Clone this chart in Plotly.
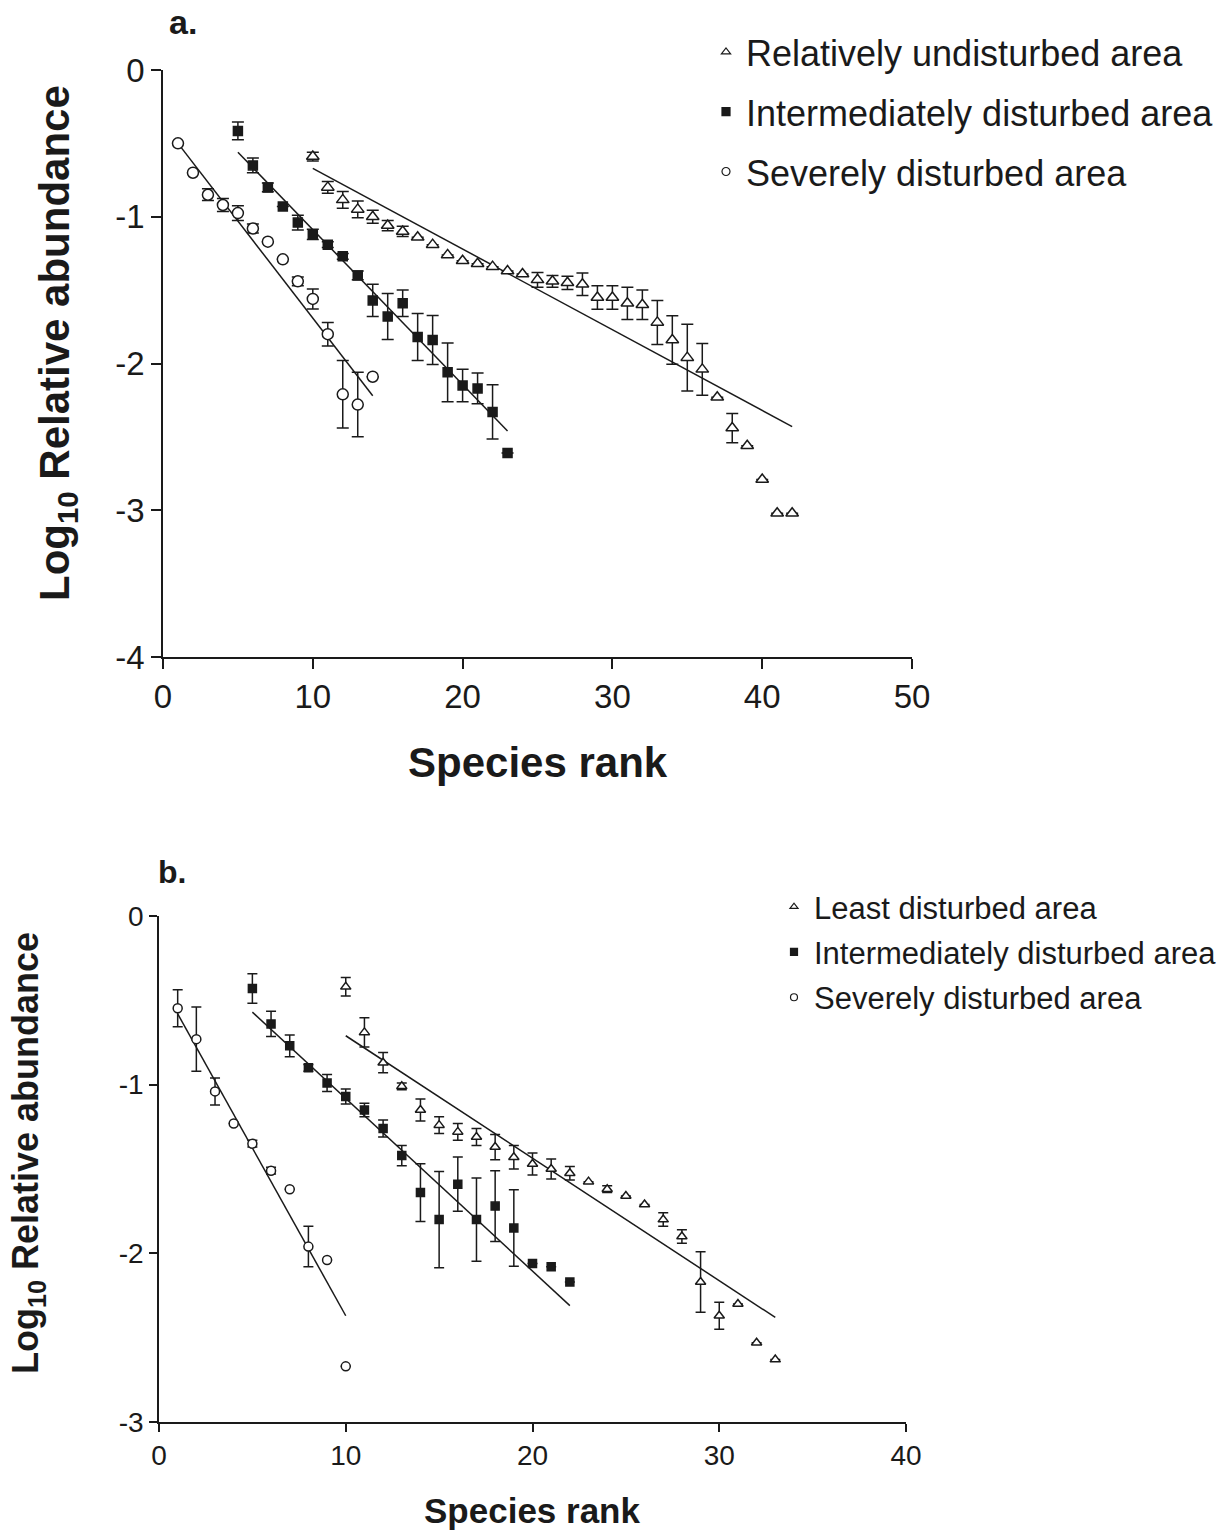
import plotly.graph_objects as go

W, H = 1224, 1531

# ---------------- Panel a data ----------------
tri_a_rank = list(range(10, 43))
tri_a_val = [-0.59, -0.80, -0.885, -0.95, -1.00, -1.06, -1.10, -1.14, -1.19, -1.26,
             -1.30, -1.32, -1.34, -1.37, -1.39, -1.43, -1.44, -1.45, -1.46, -1.55,
             -1.55, -1.59, -1.60, -1.72, -1.84, -1.96, -2.04, -2.23, -2.44, -2.56,
             -2.79, -3.02, -3.02]
tri_a_err = [0.03, 0.04, 0.057, 0.057, 0.045, 0.035, 0.035, 0, 0, 0,
             0, 0, 0, 0, 0, 0.05, 0.04, 0.045, 0.077, 0.08,
             0.08, 0.11, 0.10, 0.15, 0.165, 0.227, 0.176, 0, 0.10, 0,
             0, 0, 0]
int_a_rank = list(range(5, 24))
int_a_val = [-0.415, -0.65, -0.80, -0.93, -1.04, -1.12, -1.19, -1.27, -1.40, -1.57,
             -1.68, -1.59, -1.82, -1.84, -2.06, -2.15, -2.17, -2.33, -2.61]
int_a_err = [0.06, 0.05, 0.03, 0, 0.05, 0.035, 0.02, 0.02, 0.03, 0.11,
             0.157, 0.09, 0.16, 0.167, 0.20, 0.11, 0.105, 0.185, 0]
sev_a_rank = list(range(1, 15))
sev_a_val = [-0.50, -0.70, -0.85, -0.92, -0.975, -1.08, -1.17, -1.29, -1.44, -1.56,
             -1.80, -2.21, -2.28, -2.09]
sev_a_err = [0, 0, 0.04, 0.045, 0.05, 0.03, 0, 0, 0.03, 0.068,
             0.08, 0.23, 0.22, 0]

fit_a_tri_x, fit_a_tri_y = [10, 42], [-0.67, -2.43]
fit_a_int_x, fit_a_int_y = [5, 23], [-0.56, -2.46]
fit_a_sev_x, fit_a_sev_y = [1, 14], [-0.50, -2.22]

# ---------------- Panel b data ----------------
tri_b_rank = list(range(10, 34))
tri_b_val = [-0.42, -0.69, -0.87, -1.01, -1.15, -1.24, -1.28, -1.31, -1.37, -1.43,
             -1.47, -1.50, -1.525, -1.575, -1.62, -1.66, -1.71, -1.80, -1.90, -2.17,
             -2.37, -2.30, -2.53, -2.63]
tri_b_err = [0.055, 0.086, 0.06, 0.02, 0.065, 0.05, 0.05, 0.05, 0.075, 0.07,
             0.065, 0.06, 0.04, 0, 0.02, 0, 0, 0.04, 0.04, 0.18,
             0.08, 0, 0, 0]
int_b_rank = list(range(5, 23))
int_b_val = [-0.43, -0.64, -0.77, -0.90, -0.99, -1.07, -1.15, -1.26, -1.42, -1.64,
             -1.80, -1.59, -1.80, -1.72, -1.85, -2.06, -2.08, -2.17]
int_b_err = [0.087, 0.075, 0.065, 0.02, 0.05, 0.045, 0.04, 0.05, 0.06, 0.171,
             0.285, 0.161, 0.247, 0.21, 0.227, 0, 0, 0]
sev_b_rank = list(range(1, 11))
sev_b_val = [-0.547, -0.73, -1.04, -1.23, -1.35, -1.51, -1.62, -1.96, -2.04, -2.67]
sev_b_err = [0.11, 0.19, 0.08, 0, 0.02, 0.02, 0, 0.12, 0, 0]

fit_b_tri_x, fit_b_tri_y = [10, 33], [-0.71, -2.38]
fit_b_int_x, fit_b_int_y = [5, 22], [-0.57, -2.31]
fit_b_sev_x, fit_b_sev_y = [1, 10], [-0.58, -2.37]

legend_a_names = ["Relatively undisturbed area", "Intermediately disturbed area", "Severely disturbed area"]
legend_b_names = ["Least disturbed area", "Intermediately disturbed area", "Severely disturbed area"]

xticks_a = [0, 10, 20, 30, 40, 50]
yticks_a = [0, -1, -2, -3, -4]
xticks_b = [0, 10, 20, 30, 40]
yticks_b = [0, -1, -2, -3]
yticklabels_a = ["0", "-1", "-2", "-3", "-4"]
yticklabels_b = ["0", "-1", "-2", "-3"]

FONT = "Arial, Liberation Sans, sans-serif"
INK = "#1a1a1a"

fig = go.Figure()


def add_fit(x, y, xa, ya):
    fig.add_trace(go.Scatter(x=x, y=y, mode="lines", line=dict(color=INK, width=1.5),
                             xaxis=xa, yaxis=ya, showlegend=False, hoverinfo="skip"))


def add_pts(x, y, err, symbol, size, fill, xa, ya, cap):
    fig.add_trace(go.Scatter(
        x=x, y=y, mode="markers", xaxis=xa, yaxis=ya, showlegend=False, cliponaxis=False,
        marker=dict(symbol=symbol, size=size, color=fill, line=dict(color=INK, width=1.5)),
        error_y=dict(type="data", array=err, symmetric=True, color=INK, thickness=1.5, width=cap)))


# panel a
add_fit(fit_a_tri_x, fit_a_tri_y, "x", "y")
add_fit(fit_a_int_x, fit_a_int_y, "x", "y")
add_fit(fit_a_sev_x, fit_a_sev_y, "x", "y")
add_pts(tri_a_rank, tri_a_val, tri_a_err, "triangle-up", 11, "white", "x", "y", 6)
add_pts(int_a_rank, int_a_val, int_a_err, "square", 9, INK, "x", "y", 6)
add_pts(sev_a_rank, sev_a_val, sev_a_err, "circle", 11, "white", "x", "y", 6)

# panel b
add_fit(fit_b_tri_x, fit_b_tri_y, "x2", "y2")
add_fit(fit_b_int_x, fit_b_int_y, "x2", "y2")
add_fit(fit_b_sev_x, fit_b_sev_y, "x2", "y2")
add_pts(tri_b_rank, tri_b_val, tri_b_err, "triangle-up", 9, "white", "x2", "y2", 5)
add_pts(int_b_rank, int_b_val, int_b_err, "square", 8, INK, "x2", "y2", 5)
add_pts(sev_b_rank, sev_b_val, sev_b_err, "circle", 9, "white", "x2", "y2", 5)

# legend entries
sym = [("triangle-up", "white"), ("square", INK), ("circle", "white")]
for i, (name, (s, c)) in enumerate(zip(legend_a_names, sym)):
    fig.add_trace(go.Scatter(x=[None], y=[None], mode="markers", name=name, legend="legend",
                             legendgroup="a%d" % i, xaxis="x", yaxis="y",
                             marker=dict(symbol=s, size=8, color=c, line=dict(color=INK, width=1.2))))
for i, (name, (s, c)) in enumerate(zip(legend_b_names, sym)):
    fig.add_trace(go.Scatter(x=[None], y=[None], mode="markers", name=name, legend="legend2",
                             legendgroup="b%d" % i, xaxis="x2", yaxis="y2",
                             marker=dict(symbol=s, size=7, color=c, line=dict(color=INK, width=1.2))))

axis_common = dict(showline=True, linecolor=INK, linewidth=1.5, ticks="outside", tickwidth=1.5,
                   tickcolor=INK, showgrid=False, zeroline=False, fixedrange=True, automargin=False)

fig.update_layout(
    width=W, height=H, autosize=False,
    margin=dict(l=0, r=0, t=0, b=0, autoexpand=False),
    paper_bgcolor="white", plot_bgcolor="white",
    font=dict(family=FONT, color=INK),
    xaxis=dict(domain=[163 / W, 912 / W], range=[0, 50], tickvals=xticks_a,
               anchor="y", ticklen=10, tickfont=dict(family=FONT, color=INK, size=33), **axis_common),
    yaxis=dict(domain=[(H - 657) / H, (H - 70) / H], range=[-4, 0], tickvals=yticks_a,
               ticktext=yticklabels_a, anchor="x", ticklen=10,
               tickfont=dict(family=FONT, color=INK, size=33), **axis_common),
    xaxis2=dict(domain=[159 / W, 906 / W], range=[0, 40], tickvals=xticks_b,
                anchor="y2", ticklen=8, tickfont=dict(family=FONT, color=INK, size=28), **axis_common),
    yaxis2=dict(domain=[(H - 1422) / H, (H - 916) / H], range=[-3, 0], tickvals=yticks_b,
                ticktext=yticklabels_b, anchor="x2", ticklen=8,
                tickfont=dict(family=FONT, color=INK, size=28), **axis_common),
    legend=dict(x=706 / W, y=1 - 22 / H, xanchor="left", yanchor="top", bgcolor="rgba(0,0,0,0)",
                font=dict(family=FONT, size=36, color=INK), tracegroupgap=10, itemsizing="trace"),
    legend2=dict(x=774 / W, y=1 - 880 / H, xanchor="left", yanchor="top", bgcolor="rgba(0,0,0,0)",
                 font=dict(family=FONT, size=31, color=INK), tracegroupgap=2, itemsizing="trace"),
)

ann = [
    dict(text="<b>a.</b>", x=183 / W, y=1 - 22 / H, size=34, angle=0),
    dict(text="<b>b.</b>", x=172 / W, y=1 - 872 / H, size=32, angle=0),
    dict(text="<b>Species rank</b>", x=538 / W, y=1 - 762 / H, size=42, angle=0),
    dict(text="<b>Species rank</b>", x=532 / W, y=1 - 1510 / H, size=35, angle=0),
    dict(text="<b>Log<sub>10</sub> Relative abundance</b>", x=58 / W, y=1 - 343 / H, size=42, angle=-90),
    dict(text="<b>Log<sub>10</sub> Relative abundance</b>", x=28 / W, y=1 - 1153 / H, size=36, angle=-90),
]
for a in ann:
    fig.add_annotation(text=a["text"], x=a["x"], y=a["y"], xref="paper", yref="paper",
                       xanchor="center", yanchor="middle", showarrow=False, textangle=a["angle"],
                       font=dict(family=FONT, size=a["size"], color=INK))

fig.write_html("out.html", config={"displayModeBar": False},
               post_script="document.body.style.margin='0px';document.body.style.overflow='hidden';")
